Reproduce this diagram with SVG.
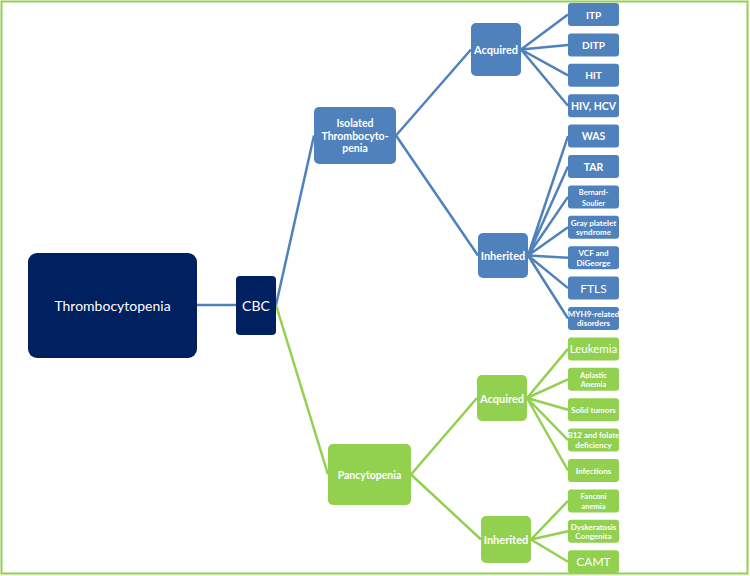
<svg xmlns="http://www.w3.org/2000/svg" width="750" height="576" viewBox="0 0 750 576">
<style>
text{font-family:Lato,"Liberation Sans",sans-serif;fill:#fff;text-anchor:middle;dominant-baseline:central}
.navy{fill:#002060}
.blue{fill:#4f81bd}
.green{fill:#92d050}
.b{font-weight:bold}
.cb{stroke:#4f81bd;stroke-width:2.5;fill:none}
.cg{stroke:#92d050;stroke-width:2.5;fill:none}
</style>
<rect x="1.5" y="1.5" width="746" height="572" fill="#fff" stroke="#92d050" stroke-width="2"/>
<g id="connectors">
<line class="cb" x1="197" y1="305" x2="236" y2="305"/>
<line class="cb" x1="276" y1="305" x2="314" y2="135.5"/>
<line class="cg" x1="276" y1="305" x2="328" y2="474.5"/>
<line class="cb" x1="396" y1="135.5" x2="471" y2="49.5"/>
<line class="cb" x1="396" y1="135.5" x2="478" y2="255.5"/>
<line class="cg" x1="411" y1="474.5" x2="477" y2="398"/>
<line class="cg" x1="411" y1="474.5" x2="481" y2="539.5"/>
<path class="cb" d="M521 49.5L568 14.5M521 49.5L568 44.9M521 49.5L568 75.3M521 49.5L568 105.7"/>
<path class="cb" d="M528 255.5L568 136.1M528 255.5L568 166.5M528 255.5L568 196.9M528 255.5L568 227.3M528 255.5L568 257.7M528 255.5L568 288.1M528 255.5L568 318.5"/>
<path class="cg" d="M527 398L568 348.9M527 398L568 379.3M527 398L568 409.7M527 398L568 440.1M527 398L568 470.5"/>
<path class="cg" d="M531 539.5L568 500.9M531 539.5L568 531.3M531 539.5L568 561.7"/>
</g>
<g id="thrombocytopenia"><rect class="navy" x="28" y="253" width="169" height="105" rx="9"/><text x="112.5" y="305.5" font-size="14">Thrombocytopenia</text></g>
<g id="cbc"><rect class="navy" x="236" y="276" width="40" height="59" rx="4"/><text x="256" y="305.5" font-size="14">CBC</text></g>
<g id="isolated"><rect class="blue" x="314" y="107" width="82" height="57" rx="5"/><text class="b" x="355" font-size="10.5"><tspan x="355" y="123">Isolated</tspan><tspan x="355" y="135.5">Thrombocyto-</tspan><tspan x="355" y="148">penia</tspan></text></g>
<g id="pancytopenia"><rect class="green" x="328" y="444" width="83" height="61" rx="5"/><text class="b" x="369.5" y="474.5" font-size="10.5">Pancytopenia</text></g>
<g id="acquired-blue"><rect class="blue" x="471" y="23" width="50" height="53" rx="5"/><text class="b" x="496" y="49.5" font-size="11">Acquired</text></g>
<g id="inherited-blue"><rect class="blue" x="478" y="233" width="50" height="45" rx="5"/><text class="b" x="503" y="255.5" font-size="11">Inherited</text></g>
<g id="acquired-green"><rect class="green" x="477" y="375" width="50" height="46" rx="5"/><text class="b" x="502" y="398" font-size="11">Acquired</text></g>
<g id="inherited-green"><rect class="green" x="481" y="516" width="50" height="47" rx="5"/><text class="b" x="506" y="539.5" font-size="11">Inherited</text></g>
<g id="itp"><rect class="blue" x="568" y="3" width="51" height="23" rx="3"/><text class="b" x="593.5" y="14.5" font-size="10">ITP</text></g>
<g id="ditp"><rect class="blue" x="568" y="33.4" width="51" height="23" rx="3"/><text class="b" x="593.5" y="44.9" font-size="10">DITP</text></g>
<g id="hit"><rect class="blue" x="568" y="63.8" width="51" height="23" rx="3"/><text class="b" x="593.5" y="75.3" font-size="10">HIT</text></g>
<g id="hiv"><rect class="blue" x="568" y="94.2" width="51" height="23" rx="3"/><text class="b" x="593.5" y="105.7" font-size="10.5">HIV, HCV</text></g>
<g id="was"><rect class="blue" x="568" y="124.6" width="51" height="23" rx="3"/><text class="b" x="593.5" y="136.1" font-size="10.5">WAS</text></g>
<g id="tar"><rect class="blue" x="568" y="155" width="51" height="23" rx="3"/><text class="b" x="593.5" y="166.5" font-size="10.5">TAR</text></g>
<g id="bernard"><rect class="blue" x="568" y="185.4" width="51" height="23" rx="3"/><text class="b" font-size="7.5"><tspan x="593.5" y="191.5">Bernard-</tspan><tspan x="593.5" y="202.5">Soulier</tspan></text></g>
<g id="gray"><rect class="blue" x="568" y="215.8" width="51" height="23" rx="3"/><text class="b" font-size="8"><tspan x="593.5" y="222.5">Gray platelet</tspan><tspan x="593.5" y="232">syndrome</tspan></text></g>
<g id="vcf"><rect class="blue" x="568" y="246.2" width="51" height="23" rx="3"/><text class="b" font-size="8"><tspan x="593.5" y="253">VCF and</tspan><tspan x="593.5" y="262.5">DiGeorge</tspan></text></g>
<g id="ftls"><rect class="blue" x="568" y="276.6" width="51" height="23" rx="3"/><text x="593.5" y="288.1" font-size="12">FTLS</text></g>
<g id="myh9"><rect class="blue" x="568" y="307" width="51" height="23" rx="3"/><text class="b" font-size="8"><tspan x="593.5" y="313.8">MYH9-related</tspan><tspan x="593.5" y="323.3">disorders</tspan></text></g>
<g id="leukemia"><rect class="green" x="568" y="337.4" width="51" height="23" rx="3"/><text x="593.5" y="348.9" font-size="11.5">Leukemia</text></g>
<g id="aplastic"><rect class="green" x="568" y="367.8" width="51" height="23" rx="3"/><text class="b" font-size="7.5"><tspan x="593.5" y="374.5">Aplastic</tspan><tspan x="593.5" y="384">Anemia</tspan></text></g>
<g id="solid"><rect class="green" x="568" y="398.2" width="51" height="23" rx="3"/><text class="b" x="593.5" y="409.7" font-size="8">Solid tumors</text></g>
<g id="b12"><rect class="green" x="568" y="428.6" width="51" height="23" rx="3"/><text class="b" font-size="8"><tspan x="593.5" y="435.3">B12 and folate</tspan><tspan x="593.5" y="444.8">deficiency</tspan></text></g>
<g id="infections"><rect class="green" x="568" y="459" width="51" height="23" rx="3"/><text class="b" x="593.5" y="470.5" font-size="8">Infections</text></g>
<g id="fanconi"><rect class="green" x="568" y="489.4" width="51" height="23" rx="3"/><text class="b" font-size="7.5"><tspan x="593.5" y="496">Fanconi</tspan><tspan x="593.5" y="505.5">anemia</tspan></text></g>
<g id="dyskeratosis"><rect class="green" x="568" y="519.8" width="51" height="23" rx="3"/><text class="b" font-size="8"><tspan x="593.5" y="526.5">Dyskeratosis</tspan><tspan x="593.5" y="536">Congenita</tspan></text></g>
<g id="camt"><rect class="green" x="568" y="550.2" width="51" height="23" rx="3"/><text x="593.5" y="561.7" font-size="12">CAMT</text></g>
</svg>
